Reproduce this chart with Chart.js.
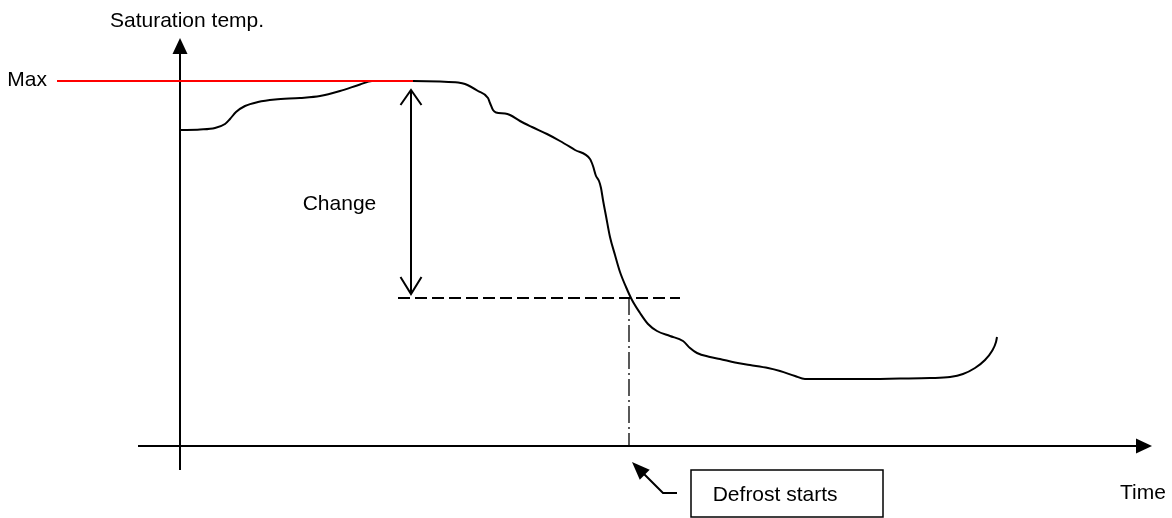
<!DOCTYPE html>
<html>
<head>
<meta charset="utf-8">
<script src="https://cdn.jsdelivr.net/npm/chart.js@4"></script>
<style>
  body { margin: 0; background: #fff; }
  #wrap { width: 1172px; height: 518px; }
</style>
</head>
<body>
<div id="wrap"><canvas id="defrostChart"></canvas></div>
<script>
  // saturation temperature curve (arbitrary units, origin at the axes crossing)
  const timeVals = [0, 2, 3.5, 4.5, 5, 5.6, 6.5, 7.8, 9.5, 12, 14, 16, 18, 19.2, 23.3, 26, 27.8, 28.5,
    29.8, 30.8, 31, 31.3, 31.6, 32.5, 33, 34, 35.2, 36.7, 38, 39.5, 41, 41.3, 41.6, 41.9, 42.1, 42.3,
    42.6, 43, 43.5, 44, 44.6, 45.2, 46, 46.8, 47.7, 49, 50.3, 51, 51.7, 53, 54, 55.5, 57, 58.8, 60,
    61.5, 62.5, 68, 72, 75, 77, 78.3, 79.5, 80.5, 81.2, 81.6, 81.7];
  const tempVals = [31.6, 31.65, 31.8, 32.2, 32.7, 33.4, 34.0, 34.4, 34.65, 34.8, 35.0, 35.5, 36.15, 36.5,
    36.5, 36.45, 36.35, 36.2, 35.5, 34.8, 34.3, 33.6, 33.35, 33.25, 33.1, 32.5, 31.9, 31.2, 30.5, 29.6,
    28.7, 28.0, 27.0, 26.5, 25.8, 24.6, 23.0, 20.9, 19.1, 17.4, 15.9, 14.6, 13.3, 12.2, 11.5, 11.0,
    10.5, 9.8, 9.3, 8.9, 8.7, 8.35, 8.1, 7.8, 7.5, 7.0, 6.7, 6.7, 6.75, 6.8, 6.9, 7.2, 7.8, 8.6, 9.5,
    10.4, 10.9];

  const maxTemp = 36.5;
  const maxLineTime = [-12.3, 23.3];
  const changeTime = 23.1;
  const changeTemp = [35.6, 15.2];
  const triggerTemp = 14.8;
  const triggerLineTime = [21.8, 50];
  const defrostTime = 44.9;
  const xAxisTime = [-4.2, 95.6, 97.2];   // start, arrow base, arrow tip
  const yAxisTemp = [-2.4, 39.2, 40.8];   // start, arrow base, arrow tip

  const FONT = '21px "Liberation Sans", Arial, sans-serif';

  function seg(xs, ys) {
    return xs.map((x, i) => ({ x: x, y: ys[i] }));
  }

  const sketchPlugin = {
    id: "sketch",
    afterDatasetsDraw(chart) {
      const c = chart.ctx;
      const sx = chart.scales.x, sy = chart.scales.y;
      const px = v => sx.getPixelForValue(v);
      const py = v => sy.getPixelForValue(v);

      c.save();
      c.fillStyle = "#000";
      c.strokeStyle = "#000";

      // axis arrow heads
      c.beginPath();
      c.moveTo(px(0), py(yAxisTemp[2]));
      c.lineTo(px(0) - 7.5, py(yAxisTemp[1]));
      c.lineTo(px(0) + 7.5, py(yAxisTemp[1]));
      c.closePath();
      c.fill();

      c.beginPath();
      c.moveTo(px(xAxisTime[2]), py(0));
      c.lineTo(px(xAxisTime[1]), py(0) - 7.5);
      c.lineTo(px(xAxisTime[1]), py(0) + 7.5);
      c.closePath();
      c.fill();

      // open heads on the "Change" arrow
      const cx = px(changeTime);
      const top = py(changeTemp[0]), bot = py(changeTemp[1]);
      c.lineWidth = 2;
      c.beginPath();
      c.moveTo(cx - 10.5, top + 15); c.lineTo(cx, top); c.lineTo(cx + 10.5, top + 15);
      c.moveTo(cx - 10.5, bot - 17); c.lineTo(cx, bot); c.lineTo(cx + 10.5, bot - 17);
      c.stroke();

      // pointer to defrost start
      const tipX = px(45.2), tipY = py(-1.6);
      const elX = px(48.3), elY = py(-4.7);
      const endX = px(49.7);
      c.beginPath();
      c.moveTo(endX, elY); c.lineTo(elX, elY); c.lineTo(tipX + 8, tipY + 8);
      c.stroke();
      const ang = Math.atan2(tipY - elY, tipX - elX);
      c.beginPath();
      c.moveTo(tipX, tipY);
      c.lineTo(tipX - 18 * Math.cos(ang) + 7 * Math.sin(ang), tipY - 18 * Math.sin(ang) - 7 * Math.cos(ang));
      c.lineTo(tipX - 18 * Math.cos(ang) - 7 * Math.sin(ang), tipY - 18 * Math.sin(ang) + 7 * Math.cos(ang));
      c.closePath();
      c.fill();

      // label box
      c.lineWidth = 1.5;
      c.strokeRect(px(51.1), py(-2.4), px(70.3) - px(51.1), py(-7.1) - py(-2.4));

      // texts
      c.font = FONT;
      c.textBaseline = "alphabetic";
      c.textAlign = "left";
      c.fillText("Saturation temp.", px(-7), py(41.95));
      c.fillText("Max", px(-17.27), py(36.03));
      c.fillText("Change", px(12.27), py(23.6));
      c.fillText("Defrost starts", px(53.27), py(-5.47));
      c.fillText("Time", px(94), py(-5.3));
      c.restore();
    }
  };

  const ctx = document.getElementById("defrostChart");

  new Chart(ctx, {
    type: "scatter",
    data: {
      datasets: [
        {
          label: "Max",
          data: seg(maxLineTime, [maxTemp, maxTemp]),
          borderColor: "#ff0000",
          borderWidth: 2,
        },
        {
          label: "Saturation temp.",
          data: seg(timeVals, tempVals),
          borderColor: "#000",
          borderWidth: 2,
          cubicInterpolationMode: "monotone",
        },
        {
          label: "Change",
          data: seg([changeTime, changeTime], changeTemp),
          borderColor: "#000",
          borderWidth: 2,
        },
        {
          label: "Trigger",
          data: seg(triggerLineTime, [triggerTemp, triggerTemp]),
          borderColor: "#000",
          borderWidth: 2,
          borderDash: [12, 5],
        },
        {
          label: "Defrost",
          data: seg([defrostTime, defrostTime], [triggerTemp, 0]),
          borderColor: "#000",
          borderWidth: 1.3,
          borderDash: [17, 4, 2, 4],
        },
        {
          label: "x axis",
          data: seg(xAxisTime.slice(0, 2), [0, 0]),
          borderColor: "#000",
          borderWidth: 2,
        },
        {
          label: "y axis",
          data: seg([0, 0], yAxisTemp.slice(0, 2)),
          borderColor: "#000",
          borderWidth: 2,
        },
      ],
    },
    options: {
      responsive: true,
      maintainAspectRatio: false,
      animation: false,
      showLine: true,
      elements: { point: { radius: 0, hoverRadius: 0 } },
      layout: { padding: 0 },
      scales: {
        x: { type: "linear", min: -18, max: 99.2, display: false },
        y: { type: "linear", min: -7.2, max: 44.6, display: false },
      },
      plugins: {
        legend: { display: false },
        tooltip: { enabled: false },
      },
    },
    plugins: [sketchPlugin],
  });
</script>
</body>
</html>
